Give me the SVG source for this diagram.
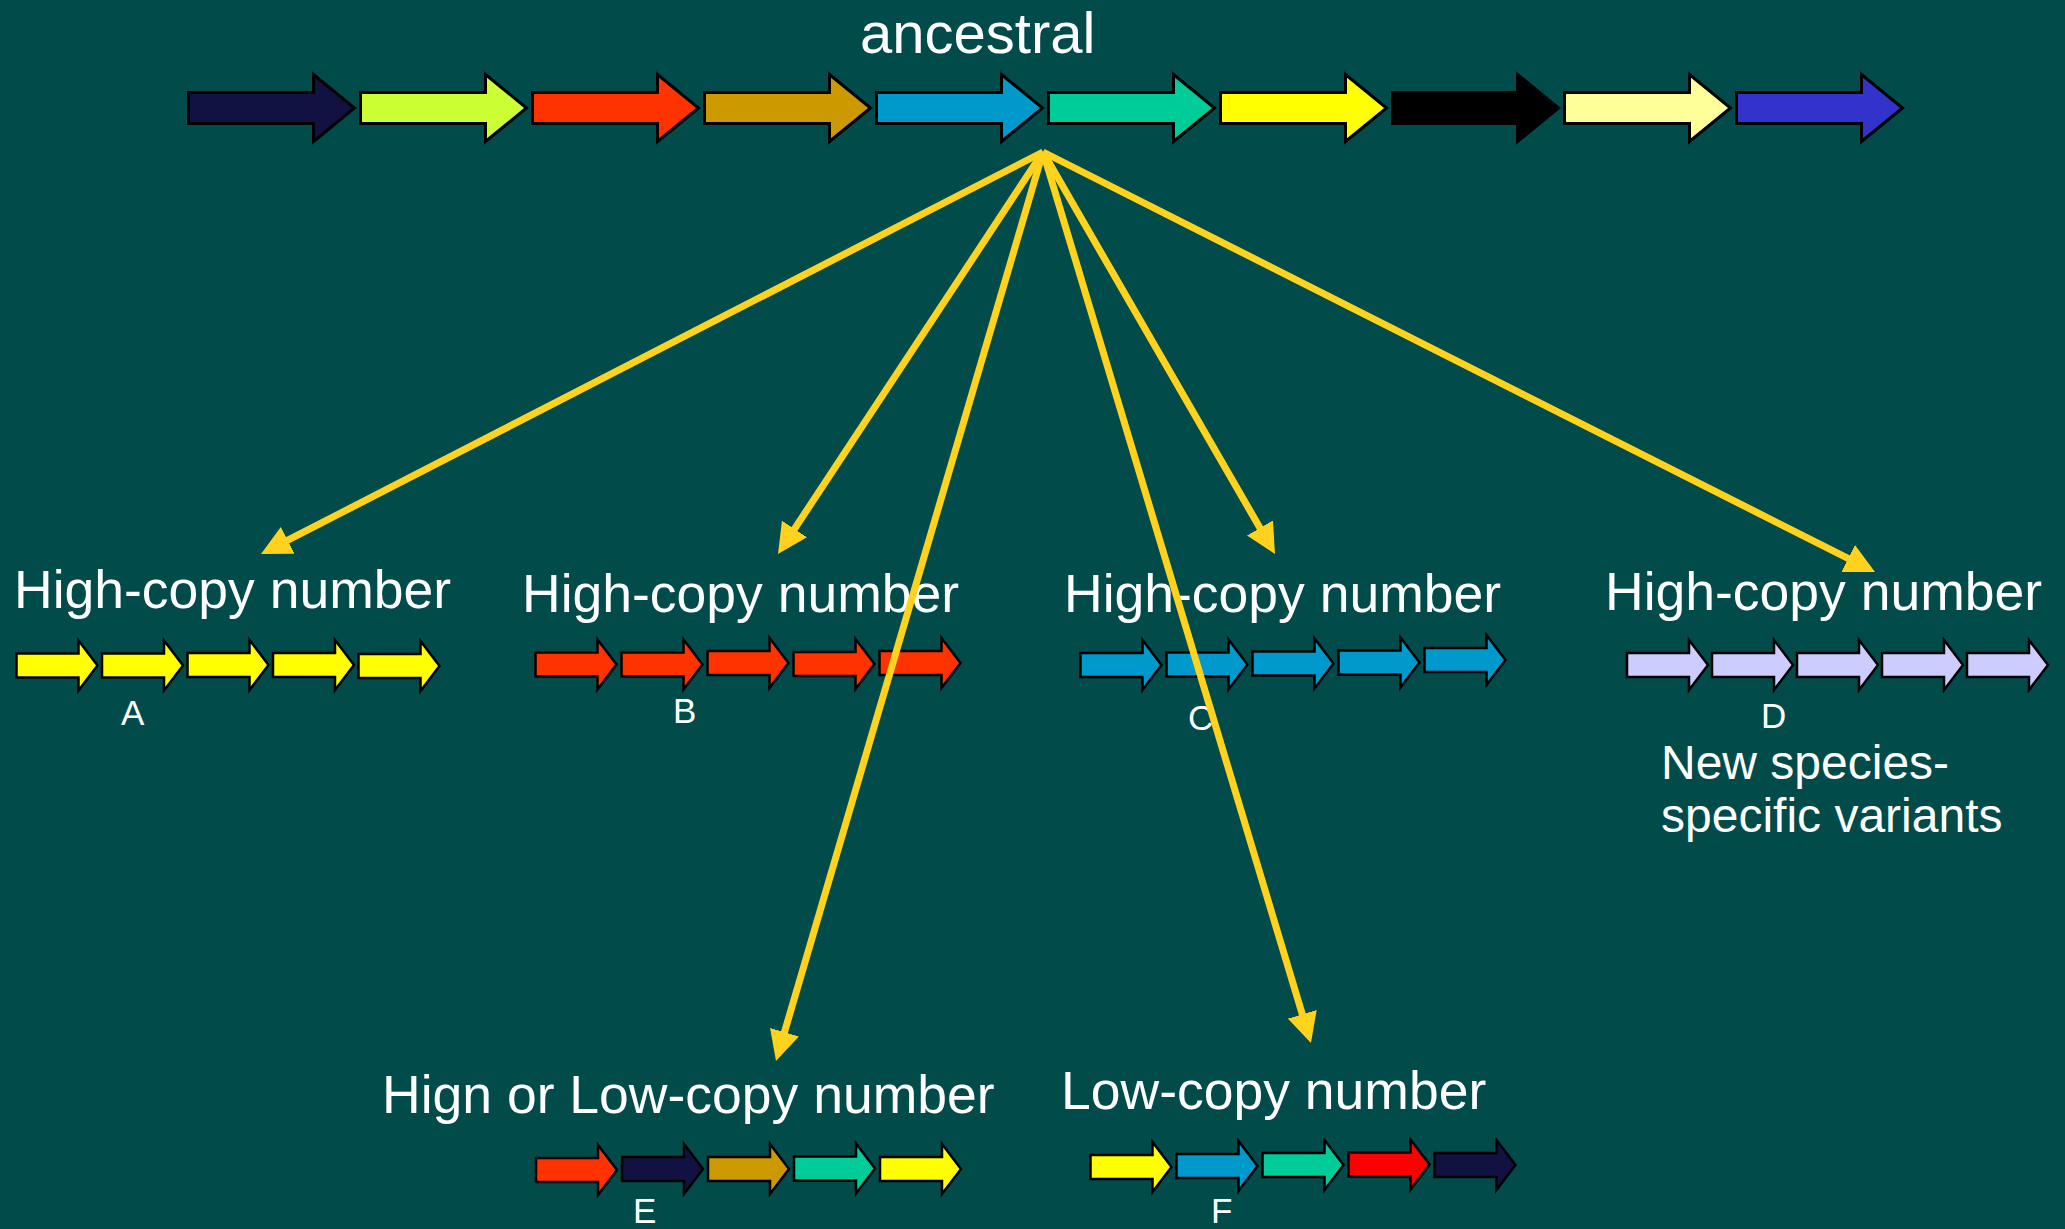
<svg xmlns="http://www.w3.org/2000/svg" xmlns:xlink="http://www.w3.org/1999/xlink" width="2065" height="1229" viewBox="0 0 2065 1229">
<style>
.t{font-family:"Liberation Sans",Arial,sans-serif;fill:#ffffff}
.big{font-size:53.5px}
.lt{font-size:35px}
.sub{font-size:48px}
.ga{stroke:#000;stroke-width:3;stroke-linejoin:miter}
.sa{stroke:#000;stroke-width:2.5;stroke-linejoin:miter}
.con{stroke:#FFD21E;stroke-width:7;fill:none;marker-end:url(#ah)}
</style>
<defs>
<path id="bigArrow" d="M0,-15.5 H125 V-33.5 L166,0 L125,33.5 V15.5 H0 Z"/>
<path id="smArrow" d="M0,-12 H62 V-25 L81,0 L62,25 V12 H0 Z"/>
<marker id="ah" markerUnits="userSpaceOnUse" markerWidth="30" markerHeight="30" viewBox="0 0 30 30" refX="2" refY="15" orient="auto">
<path d="M0,0 L30,15 L0,30 Z" fill="#FFD21E"/>
</marker>
</defs>
<rect width="2065" height="1229" fill="#014B4B"/>

<g id="ancestral">
<text class="t" x="860" y="53" font-size="58">ancestral</text>
<use href="#bigArrow" class="ga" x="188.5" y="108" fill="#121242"/>
<use href="#bigArrow" class="ga" x="360.5" y="108" fill="#CCFF33"/>
<use href="#bigArrow" class="ga" x="532.5" y="108" fill="#FF3300"/>
<use href="#bigArrow" class="ga" x="704.5" y="108" fill="#CC9900"/>
<use href="#bigArrow" class="ga" x="876.5" y="108" fill="#0099CC"/>
<use href="#bigArrow" class="ga" x="1048.5" y="108" fill="#00CC99"/>
<use href="#bigArrow" class="ga" x="1220.5" y="108" fill="#FFFF00"/>
<use href="#bigArrow" class="ga" x="1392.5" y="108" fill="#000000"/>
<use href="#bigArrow" class="ga" x="1564.5" y="108" fill="#FFFF99"/>
<use href="#bigArrow" class="ga" x="1736.5" y="108" fill="#3333CC"/>
</g>

<g id="nodeA">
<text class="t big" x="14" y="608">High-copy number</text>
<use href="#smArrow" class="sa" x="16.5" y="665.5" fill="#FFFF00"/>
<use href="#smArrow" class="sa" x="102" y="665.5" fill="#FFFF00"/>
<use href="#smArrow" class="sa" x="187.5" y="665" fill="#FFFF00"/>
<use href="#smArrow" class="sa" x="273" y="665" fill="#FFFF00"/>
<use href="#smArrow" class="sa" x="358.5" y="666" fill="#FFFF00"/>
<text class="t lt" x="121" y="725">A</text>
</g>

<g id="nodeB">
<text class="t big" x="522" y="612">High-copy number</text>
<use href="#smArrow" class="sa" x="535.5" y="664.5" fill="#FF3300"/>
<use href="#smArrow" class="sa" x="621.5" y="664.5" fill="#FF3300"/>
<use href="#smArrow" class="sa" x="707.5" y="663" fill="#FF3300"/>
<use href="#smArrow" class="sa" x="793.5" y="664" fill="#FF3300"/>
<use href="#smArrow" class="sa" x="879.5" y="663" fill="#FF3300"/>
<text class="t lt" x="673" y="723">B</text>
</g>

<g id="nodeC">
<text class="t big" x="1064" y="612">High-copy number</text>
<use href="#smArrow" class="sa" x="1080.5" y="665" fill="#0099CC"/>
<use href="#smArrow" class="sa" x="1166.5" y="664.5" fill="#0099CC"/>
<use href="#smArrow" class="sa" x="1252.5" y="663.5" fill="#0099CC"/>
<use href="#smArrow" class="sa" x="1338.5" y="662.5" fill="#0099CC"/>
<use href="#smArrow" class="sa" x="1424.5" y="660" fill="#0099CC"/>
<text class="t lt" x="1188" y="730">C</text>
</g>

<g id="nodeD">
<text class="t big" x="1605" y="610">High-copy number</text>
<use href="#smArrow" class="sa" x="1627" y="665" fill="#CCCCFF"/>
<use href="#smArrow" class="sa" x="1712" y="665" fill="#CCCCFF"/>
<use href="#smArrow" class="sa" x="1797" y="665" fill="#CCCCFF"/>
<use href="#smArrow" class="sa" x="1882" y="665" fill="#CCCCFF"/>
<use href="#smArrow" class="sa" x="1967" y="665" fill="#CCCCFF"/>
<text class="t lt" x="1761" y="728">D</text>
<text class="t sub" x="1661" y="779">New species-</text>
<text class="t sub" x="1661" y="832">specific variants</text>
</g>

<g id="nodeE">
<text class="t big" x="382" y="1113">Hign or Low-copy number</text>
<use href="#smArrow" class="sa" x="536" y="1170" fill="#FF3300"/>
<use href="#smArrow" class="sa" x="622" y="1169" fill="#121242"/>
<use href="#smArrow" class="sa" x="708" y="1169" fill="#CC9900"/>
<use href="#smArrow" class="sa" x="794" y="1168.5" fill="#00CC99"/>
<use href="#smArrow" class="sa" x="880" y="1169" fill="#FFFF00"/>
<text class="t lt" x="633" y="1223">E</text>
</g>

<g id="nodeF">
<text class="t big" x="1061" y="1109">Low-copy number</text>
<use href="#smArrow" class="sa" x="1090.5" y="1167" fill="#FFFF00"/>
<use href="#smArrow" class="sa" x="1176.5" y="1166" fill="#0099CC"/>
<use href="#smArrow" class="sa" x="1262.5" y="1165" fill="#00CC99"/>
<use href="#smArrow" class="sa" x="1348.5" y="1164.5" fill="#FF0000"/>
<use href="#smArrow" class="sa" x="1434.5" y="1165" fill="#121242"/>
<text class="t lt" x="1211" y="1223">F</text>
</g>

<g id="connectors">
<line class="con" x1="1043" y1="152" x2="285.9" y2="541.2"/>
<line class="con" x1="1043" y1="152" x2="793.4" y2="530.6"/>
<line class="con" x1="1043" y1="152" x2="783.9" y2="1034.1"/>
<line class="con" x1="1043" y1="152" x2="1302.9" y2="1016.2"/>
<line class="con" x1="1043" y1="152" x2="1261" y2="529.7"/>
<line class="con" x1="1043" y1="152" x2="1850" y2="559.4"/>
</g>
</svg>
